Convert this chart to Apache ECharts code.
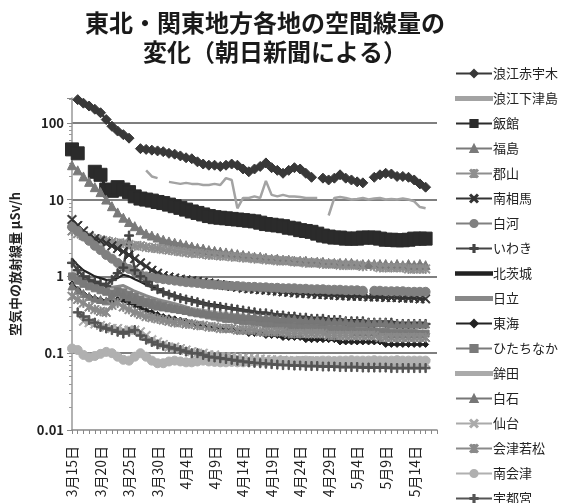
<!DOCTYPE html>
<html>
<head>
<meta charset="utf-8">
<script src="https://cdn.jsdelivr.net/npm/echarts@6/dist/echarts.min.js"></script>
<style>
  html, body { margin: 0; padding: 0; background: #fff; }
  #chart { width: 567px; height: 503px; }
</style>
</head>
<body>
<div id="chart"></div>
<script>
// 3月15日 .. 5月18日
const days = [
  '3月15日','3月16日','3月17日','3月18日','3月19日','3月20日','3月21日','3月22日','3月23日','3月24日',
  '3月25日','3月26日','3月27日','3月28日','3月29日','3月30日','3月31日',
  '4月1日','4月2日','4月3日','4月4日','4月5日','4月6日','4月7日','4月8日','4月9日','4月10日',
  '4月11日','4月12日','4月13日','4月14日','4月15日','4月16日','4月17日','4月18日','4月19日','4月20日',
  '4月21日','4月22日','4月23日','4月24日','4月25日','4月26日','4月27日','4月28日','4月29日','4月30日',
  '5月1日','5月2日','5月3日','5月4日','5月5日','5月6日','5月7日','5月8日','5月9日','5月10日',
  '5月11日','5月12日','5月13日','5月14日','5月15日','5月16日','5月17日','5月18日'
]
const yTicks = [0.01, 0.1, 1, 10, 100]

const akaugi = [null,200,180,165,150,135,110,90,78,70,63,null,46,45,44,43,42,40,39,37,35,34,31,29,28,28,27,28,29,28,25,23,25,27,30,26,24,22,24,26,25,22,19.5,null,19,18,19,21,19,18,17,16.5,null,19.5,21,22,21.5,20,20,19.5,18,16,14.5]
const shimotsushima = [null,null,null,null,null,null,null,null,null,null,null,null,null,24,20,19,null,17,16.5,16,16.5,16,16,15.5,15.5,16,15.5,19,18,7.7,10.5,10.5,11,10.5,17.5,11.5,11,11.5,11,11,10.8,10.5,10.5,10.5,null,6.2,10.5,10.8,10.5,10,10.2,10.5,10,10.3,10.5,10,10.2,10,10.3,10,9.5,8,7.7]
const iitate = [45,40,null,null,23,21,13.5,13,14.5,13.5,12.5,11,10.3,10,9.7,9.3,9,8.6,8.2,7.8,7.4,7,6.7,6.4,6.1,5.9,5.8,5.7,5.6,5.5,5.4,5.3,5.2,5,4.8,4.7,4.6,4.5,4.3,4.2,4,3.9,3.8,3.6,3.4,3.3,3.2,3.2,3.1,3.1,3.1,3.2,3.2,3.2,3.1,3,3,2.95,2.95,3,3.1,3.1,3.1]
const fukushima = [28,24,20,17,14.5,12.5,10,8.2,6.8,5.8,5.1,4.5,4,3.6,3.4,3.2,3,2.85,2.75,2.65,2.55,2.45,2.35,2.3,2.2,2.15,2.1,2.05,2,1.95,1.9,1.85,1.8,1.8,1.75,1.7,1.7,1.65,1.65,1.6,1.6,1.6,1.55,1.55,1.55,1.5,1.5,1.5,1.5,1.5,1.45,1.45,1.45,1.45,1.45,1.45,1.4,1.45,1.4,1.45,1.4,1.45,1.4]
const koriyama = [3.9,3.6,3.4,3.2,3.1,3.0,2.9,2.8,2.7,2.7,2.6,2.5,2.5,2.4,2.35,2.3,2.25,2.2,2.15,2.1,2.05,2.0,2.0,1.95,1.9,1.9,1.85,1.85,1.8,1.8,1.75,1.75,1.7,1.7,1.65,1.65,1.6,1.6,1.6,1.55,1.55,1.5,1.5,1.5,1.45,1.45,1.45,1.4,1.4,1.4,1.4,1.35,null,1.35,1.3,1.3,1.3,1.3,1.3,1.25,1.25,1.25,1.25]
const minamisoma = [5.5,4.6,3.9,3.4,3.1,2.9,2.7,2.5,2.3,2.1,1.9,1.7,1.5,1.35,1.2,1.1,1.02,0.98,0.95,0.92,0.9,0.88,0.86,0.84,0.82,0.8,0.78,0.76,0.74,0.72,0.7,0.69,0.68,0.67,0.66,0.65,0.64,0.63,0.62,0.61,0.6,0.6,0.59,0.58,0.58,0.57,0.57,0.56,0.56,0.55,0.55,0.55,0.54,0.54,0.54,0.53,0.53,0.53,0.52,0.52,0.52,0.51,0.51]
const shirakawa = [4.4,3.9,3.3,2.9,2.5,2.2,1.9,1.7,1.5,1.35,1.25,1.15,1.05,1.0,0.97,0.94,0.92,0.9,0.88,0.86,0.84,0.83,0.82,0.8,0.79,0.78,0.77,0.76,0.75,0.75,0.74,0.73,0.73,0.72,0.72,0.71,0.71,0.7,0.7,0.7,0.69,0.69,0.68,0.68,0.68,0.67,0.67,0.67,0.66,0.66,0.66,0.65,null,0.65,0.65,0.64,0.64,0.64,0.64,0.63,0.63,0.63,0.63]
const iwaki = [1.5,1.2,1.0,0.9,0.85,0.8,0.75,0.9,1.1,1.3,3.4,1.2,1.0,0.85,0.75,0.68,0.62,0.58,0.55,0.52,0.5,0.48,0.46,0.44,0.42,0.41,0.4,0.39,0.38,0.37,0.36,0.35,0.34,0.33,0.33,0.32,0.31,0.31,0.3,0.3,0.29,0.29,0.28,0.28,0.28,0.27,0.27,0.27,0.26,0.26,0.26,0.26,0.25,0.25,0.25,0.25,0.25,0.24,0.24,0.24,0.24,0.24,0.24]
const kitaibaraki = [1.7,1.4,1.2,1.1,1.0,0.95,0.9,0.88,0.95,1.05,1.0,0.92,0.85,0.78,0.72,0.68,0.64,0.6,0.57,0.54,0.52,0.5,0.48,0.46,0.44,0.43,0.42,0.4,0.39,0.38,0.37,0.36,0.35,0.34,0.34,0.33,0.32,0.32,0.31,0.31,0.3,0.3,0.29,0.29,0.29,0.28,0.28,0.28,0.27,0.27,0.27,0.27,0.26,0.26,0.26,0.26,0.26,0.25,0.25,0.25,0.25,0.25,0.25]
const hitachi = [1.1,1.0,0.92,0.86,0.82,0.78,0.75,0.72,0.74,0.76,0.7,0.64,0.6,0.56,0.53,0.5,0.48,0.46,0.44,0.42,0.4,0.38,0.37,0.36,0.35,0.34,0.33,0.32,0.31,0.3,0.3,0.29,0.28,0.28,0.27,0.26,0.26,0.25,0.25,0.24,0.24,0.24,0.23,0.23,0.23,0.22,0.22,0.22,0.22,0.21,0.21,0.21,0.21,0.21,0.2,0.2,0.2,0.2,0.2,0.2,0.2,0.19,0.19]
const tokai = [0.8,0.68,0.6,0.55,0.52,0.5,0.48,0.46,0.5,0.48,0.45,0.42,0.39,0.36,0.34,0.32,0.3,0.29,0.28,0.27,0.26,0.25,0.24,0.23,0.22,0.21,0.21,0.2,0.2,0.19,0.19,0.18,0.18,0.18,0.17,0.17,0.17,0.16,0.16,0.16,0.16,0.15,0.15,0.15,0.15,0.15,0.15,0.14,0.14,0.14,0.14,0.14,0.14,0.14,0.14,0.13,0.13,0.13,0.13,0.13,0.13,0.13,0.13]
const hitachinaka = [1.0,0.88,0.8,0.74,0.7,0.66,0.63,0.6,0.64,0.62,0.58,0.54,0.5,0.47,0.45,0.43,0.41,0.39,0.38,0.37,0.36,0.34,0.33,0.32,0.31,0.3,0.29,0.28,0.28,0.27,0.26,0.26,0.25,0.25,0.24,0.24,0.23,0.23,0.22,0.22,0.22,0.21,0.21,0.21,0.21,0.2,0.2,0.2,0.2,0.2,0.19,0.19,0.19,0.19,0.19,0.19,0.18,0.18,0.18,0.18,0.18,0.18,0.18]
const hokota = [0.9,0.82,0.76,0.72,0.68,0.65,0.62,0.6,0.62,0.6,0.56,0.53,0.5,0.48,0.46,0.44,0.43,0.42,0.41,0.4,0.39,0.38,0.37,0.36,0.35,0.34,0.33,0.33,0.32,0.32,0.31,0.3,0.3,0.29,0.29,0.28,0.28,0.27,0.27,0.26,0.26,0.26,0.25,0.25,0.25,0.25,0.24,0.24,0.24,0.24,0.23,0.23,0.23,0.23,0.23,0.22,0.22,0.22,0.22,0.22,0.22,0.22,0.22]
const shiroishi = [0.75,0.66,0.6,0.55,0.52,0.5,0.48,0.56,0.62,0.58,0.54,0.5,0.47,0.45,0.43,0.41,0.4,0.39,0.38,0.37,0.36,0.35,0.34,0.34,0.33,0.33,0.32,0.32,0.31,0.31,0.3,0.3,0.3,0.29,0.29,0.29,0.28,0.28,0.28,0.28,0.27,0.27,0.27,0.27,0.26,0.26,0.26,0.26,0.26,0.25,0.25,0.25,0.25,0.25,0.25,0.25,0.24,0.24,0.24,0.24,0.24,0.24,0.24]
const sendai = [null,null,0.26,0.25,0.24,0.23,0.22,0.21,0.21,0.2,0.2,0.2,0.19,0.17,0.15,0.14,0.13,0.12,0.12,0.115,0.11,0.105,0.1,0.1,0.095,0.095,0.09,0.09,0.09,0.088,0.086,0.085,0.085,0.084,0.083,0.082,0.082,0.081,0.08,0.08,0.08,0.08,0.079,0.079,0.078,0.078,0.078,0.077,0.077,0.077,0.076,0.076,0.076,0.076,0.075,0.075,0.075,0.075,0.075,0.074,0.074,0.074,0.074]
const aizuwakamatsu = [0.55,0.5,0.45,0.4,0.37,0.35,0.34,0.42,0.45,0.4,0.37,0.34,0.32,0.3,0.29,0.28,0.27,0.26,0.25,0.25,0.24,0.24,0.23,0.23,0.22,0.22,0.21,0.21,0.21,0.2,0.2,0.2,0.2,0.19,0.19,0.19,0.19,0.19,0.18,0.18,0.18,0.18,0.18,0.18,0.18,0.17,0.17,0.17,0.17,0.17,0.17,0.17,0.17,0.17,0.16,0.16,0.16,0.16,0.16,0.16,0.16,0.16,0.16]
const minamiaizu = [0.115,0.11,0.095,0.088,0.092,0.098,0.104,0.1,0.09,0.082,0.08,0.09,0.1,0.09,0.08,0.074,0.074,0.078,0.08,0.078,0.076,0.076,0.078,0.08,0.078,0.077,0.076,0.076,0.077,0.076,0.076,0.077,0.078,0.077,0.077,0.078,0.078,0.079,0.078,0.078,0.079,0.08,0.079,0.079,0.08,0.08,0.079,0.08,0.08,0.081,0.08,0.08,0.08,0.081,0.08,0.08,0.08,0.081,0.08,0.08,0.08,0.08,0.08]
const utsunomiya = [null,0.34,0.3,0.27,0.25,0.22,0.21,0.2,0.19,0.18,0.19,0.2,0.17,0.15,0.14,0.13,0.125,0.12,0.115,0.11,0.105,0.1,0.1,0.095,0.09,0.088,0.086,0.084,0.082,0.08,0.078,0.076,0.075,0.074,0.073,0.072,0.071,0.07,0.07,0.069,0.069,0.068,0.068,0.068,0.067,0.067,0.067,0.066,0.066,0.066,0.066,0.065,0.065,0.065,0.065,0.065,0.064,0.064,0.064,0.064,0.064,0.064,0.064]

// marker shapes like the excel ones
const PLUS = 'path://M4.2,0H5.8V4.2H10V5.8H5.8V10H4.2V5.8H0V4.2H4.2Z'
const CROSS = 'path://M1,0L5,4L9,0L10,1L6,5L10,9L9,10L5,6L1,10L0,9L4,5L0,1Z'
const STAR = 'path://M4.3,0H5.7V10H4.3Z M1,0L5,4L9,0L10,1L6,5L10,9L9,10L5,6L1,10L0,9L4,5L0,1Z'
// legend icon for the series without markers: just a bar
const BAR2 = 'path://M0,0H36V2.4H0Z'
const BAR3 = 'path://M0,0H36V3.2H0Z'

const FONT = 'Noto Sans CJK JP'

function line(name, data, color, symbol, size, width) {
  return {
    name: name,
    type: 'line',
    data: data,
    symbol: symbol || 'none',
    symbolSize: size || 0,
    showSymbol: !!symbol,
    showAllSymbol: true,
    connectNulls: false,
    lineStyle: { color: color, width: width || 2.5 },
    itemStyle: { color: color, borderColor: color, borderWidth: 1 },
    emphasis: { disabled: true }
  }
}

const series = [
  line('浪江赤宇木', akaugi, '#383838', 'diamond', 10, 2.5),
  line('浪江下津島', shimotsushima, '#a3a3a3', null, 0, 2.5),
  line('飯館', iitate, '#2b2b2b', 'rect', 13, 3),
  line('福島', fukushima, '#7a7a7a', 'triangle', 9),
  line('郡山', koriyama, '#8e8e8e', STAR, 9),
  line('南相馬', minamisoma, '#333333', CROSS, 9),
  line('白河', shirakawa, '#808080', 'circle', 9),
  line('いわき', iwaki, '#444444', PLUS, 9),
  line('北茨城', kitaibaraki, '#222222', null, 0, 2.2),
  line('日立', hitachi, '#888888', null, 0, 3),
  line('東海', tokai, '#222222', 'diamond', 6),
  line('ひたちなか', hitachinaka, '#7a7a7a', 'rect', 7),
  line('鉾田', hokota, '#aaaaaa', null, 0, 3),
  line('白石', shiroishi, '#777777', 'triangle', 8),
  line('仙台', sendai, '#aaaaaa', CROSS, 9),
  line('会津若松', aizuwakamatsu, '#8a8a8a', STAR, 9),
  line('南会津', minamiaizu, '#b0b0b0', 'circle', 9, 3),
  line('宇都宮', utsunomiya, '#555555', PLUS, 9)
]

const legendData = series.map(s => {
  if (s.symbol !== 'none') return { name: s.name }
  return { name: s.name, icon: s.lineStyle.width >= 2.5 ? BAR3 : BAR2 }
})

let myChart = echarts.init(document.getElementById('chart'))
myChart.setOption({
  animation: false,
  backgroundColor: '#fff',
  textStyle: { fontFamily: FONT },
  graphic: [{
    type: 'text',
    x: 85,
    y: 11,
    style: {
      text: '東北・関東地方各地の空間線量の',
      font: 'bold 24px "Noto Sans CJK JP"',
      fill: '#1a1a1a',
      textAlign: 'left'
    }
  }, {
    type: 'text',
    x: 143,
    y: 40,
    style: {
      text: '変化（朝日新聞による）',
      font: 'bold 24px "Noto Sans CJK JP"',
      fill: '#1a1a1a',
      textAlign: 'left'
    }
  }],
  legend: {
    orient: 'vertical',
    left: 450,
    top: 62,
    height: 700,
    itemWidth: 36,
    itemHeight: 9,
    itemGap: 12,
    data: legendData,
    textStyle: { fontFamily: FONT, fontSize: 13, color: '#222', padding: [0, 0, 0, -4] }
  },
  grid: {
    left: 72,
    right: 130,
    top: 98,
    bottom: 73,
    containLabel: false
  },
  xAxis: {
    type: 'category',
    data: days,
    boundaryGap: false,
    axisLine: { show: true, lineStyle: { color: '#888', width: 1.5 } },
    axisTick: { show: true, interval: 0, length: 4, lineStyle: { color: '#888' } },
    axisLabel: {
      interval: 4,
      rotate: 90,
      margin: 16,
      color: '#222',
      fontSize: 14,
      fontFamily: FONT
    },
    splitLine: { show: false }
  },
  yAxis: {
    type: 'log',
    logBase: 10,
    min: yTicks[0],
    max: 210,
    name: '空気中の放射線量 μSv/h',
    nameLocation: 'middle',
    nameRotate: 90,
    nameGap: 50,
    nameTextStyle: { fontFamily: FONT, fontSize: 13, fontWeight: 'bold', color: '#222' },
    axisLine: { show: true, lineStyle: { color: '#999', width: 1.5 } },
    axisTick: { show: true, length: 5, lineStyle: { color: '#888' } },
    minorTick: { show: true, splitNumber: 9, length: 3, lineStyle: { color: '#999' } },
    axisLabel: {
      showMaxLabel: false,
      margin: 8,
      color: '#222',
      fontSize: 13,
      fontWeight: 'bold',
      fontFamily: FONT
    },
    splitLine: {
      show: true,
      showMinLine: false,
      showMaxLine: false,
      lineStyle: { color: '#555', width: 1.5 }
    }
  },
  series: series
})
</script>
</body>
</html>
